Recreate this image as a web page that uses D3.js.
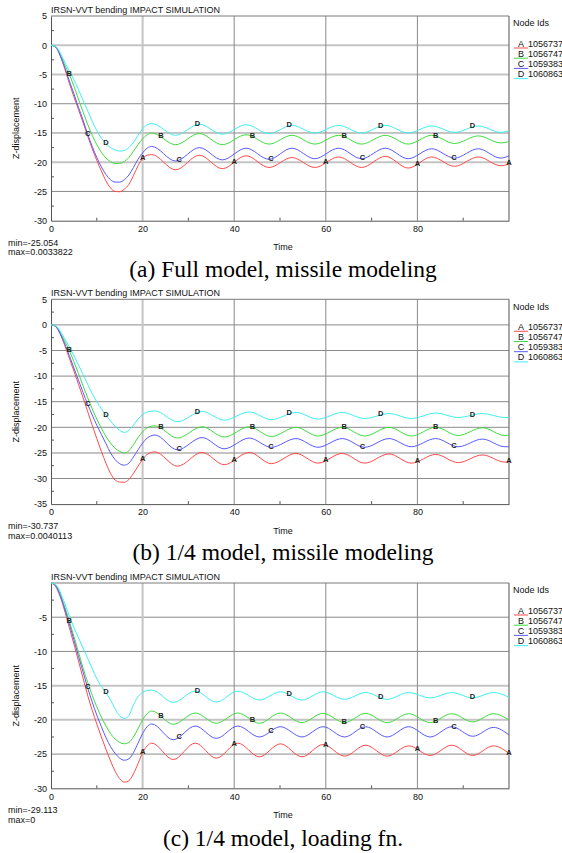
<!DOCTYPE html>
<html><head><meta charset="utf-8">
<script src="https://cdn.jsdelivr.net/npm/d3@7"></script>
<style>body{margin:0;background:#fff}svg{display:block}</style>
</head><body>
<svg id="c" width="562" height="853"></svg>
<script>
// ---------------- data ----------------
const seriesNames = ["A", "B", "C", "D"];
const nodeIds = ["1056737", "1056747", "1059383", "1060863"];
const xTicks = [0, 20, 40, 60, 80];
const yTicksFull = [5, 0, -5, -10, -15, -20, -25, -30];
const yTicksQuarter = [5, 0, -5, -10, -15, -20, -25, -30, -35];
const yTicksLoad = [-5, -10, -15, -20, -25, -30];
const labelTimes = {A: [20, 40, 60, 80, 100], B: [4, 24, 44, 64, 84], C: [8, 28, 48, 68, 88], D: [12, 32, 52, 72, 92]};

// (a) Full model, missile modeling
const timeFull = [0,1,2,3,4,5,6,7,8,9,10,11,12,13,14,15,16,17,18,19,20,21,
  22,27.2,32.4,37.4,42.6,47.6,52.6,57.6,62.8,67.8,73,78,83.1,88.1,93.3,98.2,100];
const fullA = [0,-0.3,-1.8,-4.0,-6.5,-8.8,-11.0,-13.2,-15.5,-17.7,-19.7,-21.5,-23.2,-24.4,-25.0,-25.05,-24.6,-23.8,-22.3,-20.6,-19.4,-18.8,
  -18.7,-21.3,-18.8,-21.1,-18.9,-20.9,-19.2,-20.9,-19.1,-20.9,-19.0,-21.0,-19.1,-20.7,-19.1,-20.6,-20.3];
const fullB = [0,-0.2,-1.5,-3.4,-5.0,-7.0,-9.2,-11.4,-13.5,-15.4,-17.0,-18.3,-19.3,-19.9,-20.2,-20.2,-19.9,-19.2,-18.1,-17.0,-16.0,-15.3,
  -15.0,-17.0,-15.1,-17.0,-15.3,-16.9,-15.4,-16.9,-15.4,-16.9,-15.4,-16.9,-15.4,-16.8,-15.5,-16.7,-16.5];
const fullC = [0,-0.3,-1.7,-3.8,-6.1,-8.3,-10.6,-12.8,-15.2,-17.3,-19.2,-20.8,-22.1,-23.0,-23.4,-23.4,-23.0,-22.2,-20.9,-19.5,-18.4,-17.6,
  -17.3,-19.8,-17.5,-19.6,-17.6,-19.5,-17.6,-19.4,-17.6,-19.4,-17.6,-19.4,-17.7,-19.3,-17.7,-19.3,-18.9];
const fullD = [0,-0.2,-1.3,-2.9,-4.4,-5.9,-7.6,-9.4,-11.2,-13.0,-14.6,-15.9,-16.8,-17.5,-17.9,-18.1,-18.0,-17.5,-16.6,-15.4,-14.3,-13.6,
  -13.4,-15.4,-13.5,-15.2,-13.6,-15.1,-13.7,-15.0,-13.7,-15.0,-13.7,-15.0,-13.8,-14.9,-13.8,-14.9,-14.6];

// (b) 1/4 model, missile modeling
const timeQuarter = [0,1,2,3,4,5,6,7,8,9,10,11,12,13,14,15,16,17,18,19,20,21,
  22.7,27.6,33,37.8,43.3,48.1,53.5,58.3,63.6,68.5,73.8,78.7,84,88.9,94.2,99.1,100];
const quarterA = [0,-0.3,-1.8,-4.0,-6.5,-9.0,-11.6,-14.2,-16.9,-19.6,-22.2,-24.7,-27.0,-29.0,-30.3,-30.7,-30.74,-30.2,-29.0,-27.6,-26.3,-25.3,
  -24.8,-27.6,-24.9,-27.3,-24.9,-27.1,-25.1,-27.0,-25.1,-27.0,-25.2,-27.0,-25.3,-26.9,-25.4,-26.8,-26.7];
const quarterB = [0,-0.2,-1.5,-3.2,-5.0,-7.2,-9.5,-11.9,-14.2,-16.4,-18.4,-20.2,-21.8,-23.1,-24.1,-24.7,-25.0,-24.6,-23.4,-22.0,-20.9,-20.1,
  -19.7,-22.1,-19.9,-21.9,-19.9,-21.8,-20.0,-21.7,-20.0,-21.7,-20.0,-21.7,-20.0,-21.6,-20.1,-21.6,-21.5];
const quarterC = [0,-0.3,-1.7,-3.7,-6.0,-8.4,-10.8,-13.2,-15.5,-17.6,-19.6,-21.4,-23.2,-25.0,-26.3,-27.1,-27.4,-27.0,-25.8,-24.4,-23.1,-22.1,
  -21.5,-24.4,-22.0,-24.2,-22.1,-23.9,-22.2,-23.9,-22.2,-23.9,-22.2,-23.8,-22.2,-23.8,-22.3,-23.8,-23.8];
const quarterD = [0,-0.2,-1.2,-2.7,-4.3,-6.0,-7.8,-9.7,-11.6,-13.4,-15.0,-16.4,-17.6,-18.8,-19.8,-20.6,-21.0,-20.6,-19.6,-18.4,-17.5,-17.0,
  -16.8,-18.9,-16.9,-18.6,-17.0,-18.5,-17.1,-18.4,-17.1,-18.3,-17.3,-18.3,-17.2,-18.1,-17.3,-18.1,-18.1];

// (c) 1/4 model, loading fn.
const timeLoad = [0,1,2,3,4,5,6,7,8,9,10,11,12,13,14,15,16,17,18,19,20,21,
  22,26.7,31.5,36.1,40.8,45.5,50.1,54.8,59.4,64.1,68.7,73.4,78.1,82.8,87.5,92.1,96.6,100];
const loadA = [0,-0.5,-2.0,-4.1,-6.5,-8.9,-11.4,-13.9,-16.4,-18.6,-20.6,-22.5,-24.3,-26.0,-27.5,-28.6,-29.1,-28.9,-27.9,-26.4,-24.8,-23.8,
  -23.4,-25.8,-23.4,-25.6,-23.4,-25.4,-23.5,-25.4,-23.6,-25.3,-23.7,-25.3,-23.8,-25.2,-23.7,-25.2,-23.8,-24.9];
const loadB = [0,-0.3,-1.6,-3.5,-5.6,-7.8,-10.1,-12.4,-14.5,-16.4,-18.1,-19.6,-20.9,-22.0,-22.8,-23.3,-23.5,-23.3,-22.5,-21.3,-20.0,-19.1,
  -18.7,-20.65,-19.0,-20.5,-19.0,-20.5,-19.0,-20.4,-19.05,-20.4,-19.05,-20.4,-19.1,-20.4,-19.1,-20.3,-19.1,-20.0];
const loadC = [0,-0.4,-1.8,-3.8,-6.0,-8.3,-10.7,-13.0,-15.3,-17.4,-19.3,-21.0,-22.6,-23.9,-24.9,-25.6,-25.9,-25.7,-24.8,-23.4,-22.0,-21.0,
  -20.6,-22.9,-20.9,-22.7,-20.9,-22.5,-21.0,-22.5,-21.0,-22.5,-21.0,-22.5,-21.0,-22.5,-21.0,-22.4,-21.1,-22.2];
const loadD = [0,-0.2,-1.3,-3.0,-4.8,-6.5,-8.0,-9.5,-11.0,-12.5,-14.0,-15.1,-16.0,-17.1,-18.4,-19.4,-19.8,-19.4,-17.8,-16.6,-16.0,-15.7,
  -15.65,-17.45,-15.8,-17.4,-15.8,-17.1,-15.9,-17.1,-15.9,-17.0,-16.0,-17.0,-16.0,-16.8,-16.0,-16.8,-16.0,-16.7];

const minMaxText = [["min=-25.054", "max=0.0033822"], ["min=-30.737", "max=0.0040113"], ["min=-29.113", "max=0"]];
const captions = ["(a) Full model, missile modeling", "(b) 1/4 model, missile modeling", "(c) 1/4 model, loading fn."];

// ---------------- layout / style ----------------
const panels = [
  {time: timeFull, series: [fullA, fullB, fullC, fullD], yDomain: [-30, 5], yTicks: yTicksFull,
   top: 16, bottom: 220.7, capY: 277, lightY: [0, -5, -20], mm: minMaxText[0], cap: captions[0]},
  {time: timeQuarter, series: [quarterA, quarterB, quarterC, quarterD], yDomain: [-35, 5], yTicks: yTicksQuarter,
   top: 299.3, bottom: 504.1, capY: 560, lightY: [-25], mm: minMaxText[1], cap: captions[1]},
  {time: timeLoad, series: [loadA, loadB, loadC, loadD], yDomain: [-30, 0], yTicks: yTicksLoad,
   top: 583, bottom: 788.3, capY: 846, lightY: [-15, -20], mm: minMaxText[2], cap: captions[2]}
];
const colors = ["#ff4a4a", "#3ddd3d", "#5a5aff", "#3ef0f0"];
const FONT = "'Liberation Sans', Arial, sans-serif";
const SERIF = "'Liberation Serif', 'Times New Roman', serif";
const left = 51, right = 509;

const svg = d3.select("#c");

function pointAtX(node, xt) {
  const L = node.getTotalLength();
  let lo = 0, hi = L;
  for (let i = 0; i < 40; i++) {
    const mid = (lo + hi) / 2;
    if (node.getPointAtLength(mid).x < xt) lo = mid; else hi = mid;
  }
  return node.getPointAtLength((lo + hi) / 2);
}

panels.forEach(p => {
  const x = d3.scaleLinear().domain([0, 100]).range([left, right]);
  const y = d3.scaleLinear().domain(p.yDomain).range([p.bottom, p.top]);
  const g = svg.append("g");

  // grid
  const hGrid = p.yTicks.filter(v => v > p.yDomain[0] && v < p.yDomain[1]);
  g.selectAll(".hg").data(hGrid).join("line")
    .attr("x1", left).attr("x2", right)
    .attr("y1", d => y(d)).attr("y2", d => y(d))
    .attr("stroke", d => p.lightY.includes(d) ? "#c4c4c4" : "#8a8a8a")
    .attr("stroke-width", d => p.lightY.includes(d) ? 2 : 1);
  g.selectAll(".vg").data(xTicks.filter(v => v > 0)).join("line")
    .attr("x1", d => x(d)).attr("x2", d => x(d))
    .attr("y1", p.top).attr("y2", p.bottom)
    .attr("stroke", d => d === 20 ? "#c4c4c4" : "#8a8a8a")
    .attr("stroke-width", d => d === 20 ? 2 : 1);

  // frame
  g.append("line").attr("x1", left).attr("x2", right).attr("y1", p.top).attr("y2", p.top).attr("stroke", "#7a7a7a");
  g.append("line").attr("x1", right).attr("x2", right).attr("y1", p.top).attr("y2", p.bottom).attr("stroke", "#7a7a7a").attr("stroke-width", 1.3);

  // axes
  const yAxis = d3.axisLeft(y).tickValues(p.yTicks).tickSize(0).tickPadding(4).tickFormat(d => String(d));
  const ya = g.append("g").attr("transform", `translate(${left},0)`).call(yAxis);
  ya.select(".domain").attr("stroke", "#555");
  ya.selectAll("text").attr("font-family", FONT).attr("font-size", 9).attr("fill", "#111");
  const xAxis = d3.axisBottom(x).tickValues(xTicks).tickSize(0).tickPadding(5).tickFormat(d => String(d));
  const xa = g.append("g").attr("transform", `translate(0,${p.bottom})`).call(xAxis);
  xa.select(".domain").attr("stroke", "#555");
  xa.selectAll("text").attr("font-family", FONT).attr("font-size", 9).attr("fill", "#111");

  // minor ticks
  const yMinor = d3.range(p.yDomain[0] + 2.5, p.yDomain[1], 5);
  g.selectAll(".ym").data(yMinor).join("line")
    .attr("x1", left).attr("x2", left + 3).attr("y1", d => y(d)).attr("y2", d => y(d)).attr("stroke", "#555");
  g.selectAll(".xm").data([10, 30, 50, 70, 90]).join("line")
    .attr("x1", d => x(d)).attr("x2", d => x(d)).attr("y1", p.bottom).attr("y2", p.bottom - 3).attr("stroke", "#555");

  // series
  const line = d3.line().x((d, i) => x(p.time[i])).y(d => y(d)).curve(d3.curveMonotoneX);
  const paths = p.series.map((vals, si) =>
    g.append("path").datum(vals).attr("d", line).attr("fill", "none")
      .attr("stroke", colors[si]).attr("stroke-width", 1).node());

  // labels on curves
  seriesNames.forEach((nm, si) => {
    labelTimes[nm].forEach(t => {
      const pt = pointAtX(paths[si], x(t));
      g.append("text").attr("x", x(t)).attr("y", pt.y + 1.5)
        .attr("text-anchor", "middle").attr("font-family", FONT).attr("font-size", 7.5)
        .attr("font-weight", "bold").attr("fill", "#222").text(nm);
    });
  });

  // title
  g.append("text").attr("x", left).attr("y", p.top - 3).attr("font-family", FONT).attr("font-size", 9)
    .attr("fill", "#111").text("IRSN-VVT bending IMPACT SIMULATION");
  // y label
  g.append("text").attr("transform", `translate(18.5,${(p.top + p.bottom) / 2 + 10}) rotate(-90)`)
    .attr("text-anchor", "middle").attr("font-family", FONT).attr("font-size", 9).attr("fill", "#111").text("Z-displacement");
  // x label
  g.append("text").attr("x", 283).attr("y", p.bottom + 29.5).attr("text-anchor", "middle")
    .attr("font-family", FONT).attr("font-size", 9).attr("fill", "#111").text("Time");
  // min / max
  g.append("text").attr("x", 8).attr("y", p.bottom + 25).attr("font-family", FONT).attr("font-size", 9).attr("fill", "#111").text(p.mm[0]);
  g.append("text").attr("x", 8).attr("y", p.bottom + 34.5).attr("font-family", FONT).attr("font-size", 9).attr("fill", "#111").text(p.mm[1]);

  // legend
  g.append("text").attr("x", 513).attr("y", p.top + 10.3).attr("font-family", FONT).attr("font-size", 9).attr("fill", "#111").text("Node Ids");
  seriesNames.forEach((nm, si) => {
    const yy = p.top + 30.5 + si * 10.2;
    g.append("line").attr("x1", 514).attr("x2", 528).attr("y1", yy + 1.5).attr("y2", yy + 1.5).attr("stroke", colors[si]);
    g.append("text").attr("x", 521).attr("y", yy).attr("text-anchor", "middle").attr("font-family", FONT).attr("font-size", 9).attr("fill", "#111").text(nm);
    g.append("text").attr("x", 528).attr("y", yy).attr("font-family", FONT).attr("font-size", 9).attr("fill", "#111").text(nodeIds[si]);
  });

  // caption
  g.append("text").attr("x", 283).attr("y", p.capY).attr("text-anchor", "middle")
    .attr("font-family", SERIF).attr("font-size", 23.5).attr("fill", "#000").text(p.cap);
});
</script>
</body></html>
